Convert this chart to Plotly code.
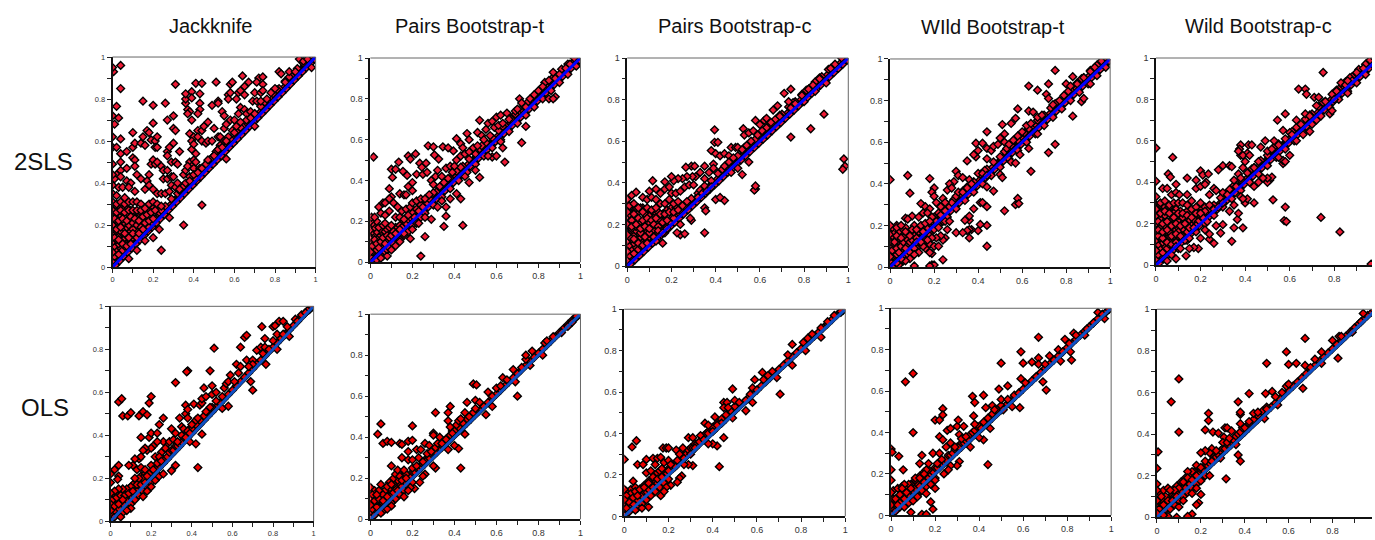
import plotly.graph_objects as go

W, H = 1375, 540
TITLES = ["Jackknife", "Pairs Bootstrap-t", "Pairs Bootstrap-c", "WIld Bootstrap-t", "Wild Bootstrap-c"]
ROWS = ["2SLS", "OLS"]
TICK_VALUES = [0, .1, .2, .3, .4, .5, .6, .7, .8, .9, 1]
TICK_LABELS = ["0", "", "0.2", "", "0.4", "", "0.6", "", "0.8", "", "1"]

BAND_2SLS = [(.005,.012),(.015,.01),(.025,.035),(.035,.03),(.045,.055),(.055,.05),(.065,.078),(.075,.07),(.085,.095),(.095,.09),(.105,.118),(.115,.11),(.125,.135),(.135,.13),(.145,.157),(.155,.15),(.165,.175),(.175,.17),(.185,.198),(.195,.19),(.205,.215),(.215,.21),(.225,.238),(.235,.23),(.245,.255),(.255,.25),(.265,.278),(.275,.27),(.285,.295),(.295,.29),(.305,.318),(.315,.31),(.325,.335),(.335,.33),(.345,.358),(.355,.35),(.365,.375),(.375,.37),(.385,.398),(.395,.39),(.405,.415),(.415,.41),(.425,.438),(.435,.43),(.445,.455),(.455,.45),(.465,.478),(.475,.47),(.485,.495),(.495,.49),(.505,.518),(.515,.51),(.525,.535),(.535,.53),(.545,.558),(.555,.55),(.565,.575),(.575,.57),(.585,.598),(.595,.59),(.605,.615),(.615,.61),(.625,.638),(.635,.63),(.645,.655),(.655,.65),(.665,.678),(.675,.67),(.685,.695),(.695,.69),(.705,.718),(.715,.71),(.725,.735),(.735,.73),(.745,.758),(.755,.75),(.765,.775),(.775,.77),(.785,.798),(.795,.79),(.805,.815),(.815,.81),(.825,.838),(.835,.83),(.845,.855),(.855,.85),(.865,.878),(.875,.87),(.885,.895),(.895,.89),(.905,.918),(.915,.91),(.925,.935),(.935,.93),(.945,.958),(.955,.95),(.965,.975),(.975,.97),(.985,.995),(.995,.99)]
BAND_ABOVE_2SLS = [(.2,.23),(.23,.26),(.26,.29),(.29,.325),(.32,.35),(.35,.385),(.38,.41),(.41,.445),(.44,.47),(.47,.505),(.5,.53),(.52,.555),(.55,.585),(.58,.61),(.61,.645),(.64,.67),(.67,.705),(.7,.73),(.73,.765),(.76,.79),(.79,.825),(.82,.85),(.85,.885),(.88,.91),(.91,.945),(.94,.97),(.97,1.0),(.33,.365),(.43,.465),(.53,.57),(.63,.665),(.69,.725),(.75,.785),(.81,.845),(.87,.905)]
BAND_BELOW_2SLS = [(.3,.28),(.34,.32),(.38,.36),(.42,.4),(.46,.44),(.5,.48),(.54,.52),(.58,.56),(.62,.6),(.66,.64),(.7,.68),(.74,.72),(.78,.76),(.82,.8),(.86,.84),(.9,.88),(.94,.92),(.98,.96),(.1,.08),(.14,.12),(.18,.16),(.22,.2),(.26,.24)]
CLUSTER_2SLS = [(.0,.03),(.01,.05),(.02,.08),(.0,.07),(.03,.06),(.04,.09),(.01,.1),(.03,.11),(.05,.08),(.06,.1),(.0,.12),(.02,.13),(.04,.12),(.07,.12),(.05,.13),(.08,.11),(.01,.15),(.03,.15),(.06,.14),(.09,.13),(.0,.16),(.05,.16),(.07,.15),(.1,.14),(.02,.17),(.08,.16),(.04,.17),(.11,.15),(.09,.17),(.06,.18),(.01,.19),(.03,.2),(.12,.17),(.07,.19),(.1,.18),(.0,.2)]
CLUSTER_WIDE = [(.0,.24),(.02,.22),(.04,.24),(.06,.21),(.08,.2),(.1,.21),(.12,.2),(.14,.21),(.16,.19),(.01,.26),(.03,.28),(.05,.26),(.07,.28),(.09,.27),(.11,.26),(.13,.25),(.15,.22),(.17,.22),(.19,.21),(.21,.23),(.02,.18),(.04,.19),(.06,.16),(.08,.14),(.1,.16),(.12,.14),(.14,.16),(.16,.17),(.18,.19),(.0,.29),(.02,.29),(.04,.28),(.06,.28),(.08,.25),(.1,.24),(.12,.23),(.14,.26),(.16,.25),(.18,.27),(.2,.28),(.22,.28),(.24,.27),(.01,.14),(.03,.13),(.05,.11),(.07,.1),(.09,.11)]
CLUSTER_NEAR = [(.0,.05),(.01,.08),(.02,.11),(.03,.09),(.04,.07),(.05,.1),(.06,.12),(.07,.09),(.08,.13),(.09,.12),(.1,.13),(.11,.15),(.12,.14),(.13,.17),(.14,.18),(.15,.17),(.16,.2),(.17,.19),(.18,.21),(.19,.22),(.2,.24),(.21,.22),(.22,.26),(.23,.25),(.24,.28),(.25,.27),(.26,.3),(.27,.29),(.28,.31),(.3,.34),(.06,.03),(.07,.05),(.08,.06),(.1,.07),(.12,.1),(.13,.1),(.14,.11),(.16,.13),(.18,.15),(.2,.18),(.22,.19),(.24,.22),(.03,.01),(.05,.03),(.09,.07),(.11,.09)]

JACK_2SLS = [(.005,.93),(.0,.95),(.04,.96),(.04,.85),(.02,.765),(.0,.72),(.03,.71),(.01,.68),(.0,.62),(.04,.61),(.0,.57),(.02,.57),(.04,.54),(.0,.49),(.04,.5),(.07,.55),(.1,.57),(.1,.64),(.11,.59),(.1,.52),(.11,.51),(.11,.48),(.07,.47),(.04,.46),(.02,.44),(.04,.43),(.01,.42),(.03,.38),(.07,.41),(.09,.4),(.05,.38),(.08,.38),(.11,.36),(.12,.44),(.14,.59),(.16,.58),(.15,.62),(.17,.65),(.18,.64),(.19,.605),(.21,.6),(.22,.62),(.21,.57),(.22,.57),(.15,.79),(.2,.77),(.26,.78),(.27,.7),(.2,.685),(.3,.72),(.31,.87),(.3,.66),(.31,.65),(.37,.75),(.38,.74),(.37,.73),(.36,.78),(.36,.8),(.36,.825),(.39,.835),(.39,.805),(.41,.875),(.44,.875),(.43,.825),(.43,.78),(.43,.75),(.42,.73),(.39,.7),(.38,.635),(.4,.62),(.42,.65),(.44,.65),(.42,.62),(.45,.67),(.47,.69),(.49,.77),(.51,.88),(.52,.79),(.52,.78),(.54,.74),(.55,.72),(.57,.82),(.57,.8),(.58,.83),(.58,.87),(.59,.88),(.61,.8),(.62,.83),(.63,.84),(.64,.91),(.65,.82),(.65,.86),(.67,.88),(.7,.83),(.72,.9),(.71,.88),(.74,.905),(.74,.87),(.73,.83),(.74,.84),(.27,.55),(.3,.59),(.28,.57),(.27,.53),(.29,.5),(.31,.5),(.32,.49),(.33,.55),(.38,.5),(.39,.48),(.4,.51),(.41,.5),(.39,.56),(.39,.6),(.4,.585),(.41,.54),(.44,.6),(.46,.59),(.47,.6),(.49,.6),(.5,.66),(.52,.62),(.53,.62),(.55,.66),(.56,.68),(.58,.7),(.6,.7),(.62,.73),(.63,.76),(.65,.75),(.66,.73),(.68,.74),(.69,.79),(.71,.79),(.73,.79),(.19,.49),(.2,.51),(.21,.49),(.22,.5),(.24,.48),(.25,.46),(.27,.46),(.18,.44),(.14,.42),(.17,.41),(.16,.37),(.18,.39),(.2,.37),(.22,.35),(.24,.35),(.26,.35),(.28,.36),(.25,.42),(.27,.42),(.29,.43),(.3,.43),(.29,.39),(.31,.38),(.32,.4),(.33,.37),(.35,.44),(.36,.46),(.37,.48),(.38,.43),(.4,.47),(.41,.42),(.43,.47),(.46,.49),(.49,.52),(.51,.55),(.53,.58),(.55,.6),(.57,.62),(.59,.65),(.61,.67),(.63,.69),(.66,.7),(.68,.71),(.7,.73),(.76,.8),(.78,.83),(.8,.85),(.82,.93),(.83,.92),(.85,.88),(.87,.93),(.9,.93),(.92,.99),(.94,.98),(.96,.99),(.36,.4),(.38,.41),(.4,.44),(.42,.45),(.44,.47),(.47,.51),(.5,.53),(.52,.56),(.54,.57),(.56,.6),(.6,.64),(.24,.08),(.35,.2),(.44,.295),(.28,.235),(.23,.18),(.2,.14),(.16,.125),(.12,.08),(.56,.515),(.7,.67),(.98,.95),(.08,.04),(.0,.31),(.02,.3),(.04,.31),(.06,.3),(.08,.31),(.1,.31),(.12,.31),(.14,.3),(.0,.27),(.02,.26),(.04,.27),(.06,.26),(.08,.27),(.1,.27),(.12,.27),(.14,.27),(.16,.28),(.18,.3),(.2,.31),(.22,.3),(.24,.29),(.01,.23),(.03,.22),(.05,.23),(.07,.22),(.09,.24),(.11,.23),(.13,.22),(.15,.24),(.17,.25),(.19,.26),(.21,.27),(.14,.19),(.16,.21),(.18,.22),(.2,.23),(.13,.16),(.15,.18),(.0,.35),(.0,.39),(.0,.44),(.02,.34),(.06,.33)]

PAIRS_T_2SLS = [(.015,.515),(.1,.455),(.12,.455),(.105,.415),(.135,.49),(.155,.445),(.175,.425),(.18,.52),(.19,.505),(.215,.53),(.235,.485),(.245,.465),(.265,.485),(.275,.57),(.3,.565),(.305,.525),(.325,.505),(.345,.565),(.37,.56),(.395,.545),(.41,.605),(.43,.58),(.44,.56),(.46,.63),(.47,.6),(.51,.635),(.52,.695),(.53,.62),(.55,.65),(.56,.68),(.58,.69),(.59,.66),(.6,.71),(.62,.72),(.65,.73),(.67,.7),(.69,.74),(.71,.8),(.72,.78),(.74,.76),(.78,.82),(.8,.84),(.83,.88),(.87,.93),(.9,.92),(.93,.95),(.95,.97),(.88,.9),(.85,.8),(.88,.81),(.87,.8),(.74,.665),(.72,.585),(.64,.49),(.63,.56),(.52,.415),(.47,.39),(.43,.31),(.36,.27),(.36,.225),(.35,.175),(.44,.18),(.26,.125),(.24,.03),(.19,.115),(.29,.21),(.32,.27),(.38,.31),(.41,.335),(.58,.515),(.6,.52),(.09,.36),(.1,.32),(.14,.335),(.16,.33),(.17,.33),(.18,.37),(.2,.39),(.2,.35),(.22,.43),(.25,.43),(.27,.44),(.29,.4),(.3,.38),(.31,.42),(.32,.45),(.34,.42),(.36,.46),(.38,.47),(.4,.47),(.33,.37),(.35,.39),(.37,.41),(.39,.44),(.41,.5),(.43,.52),(.45,.53),(.47,.54),(.49,.56),(.51,.57),(.06,.29),(.07,.29),(.09,.31),(.11,.29),(.13,.27),(.15,.25),(.17,.26),(.19,.27),(.2,.29),(.22,.3),(.24,.31),(.26,.31),(.28,.33),(.04,.27),(.05,.24),(.07,.23),(.09,.25),(.12,.22),(.14,.22),(.16,.21),(.18,.23),(.005,.22),(.02,.22),(.54,.6),(.57,.62),(.61,.67),(.63,.68),(.66,.7),(.7,.75),(.76,.8),(.82,.86),(.85,.89),(.14,.1),(.12,.08),(.1,.06),(.08,.03),(.05,.02),(.2,.16),(.23,.19),(.26,.22),(.34,.3),(.45,.42),(.5,.45),(.56,.52),(.62,.59),(.14,.16),(.16,.14)]

PAIRS_C_2SLS = [(.98,.515),(.985,.48),(.975,.465),(.83,.66),(.74,.62),(.89,.73),(.74,.85),(.71,.83),(.66,.75),(.68,.77),(.73,.79),(.74,.76),(.58,.37),(.575,.365),(.58,.385),(.52,.44),(.44,.315),(.4,.32),(.42,.33),(.35,.28),(.355,.265),(.35,.16),(.29,.22),(.285,.23),(.24,.15),(.26,.155),(.225,.16),(.24,.2),(.17,.16),(.16,.11),(.395,.655),(.395,.595),(.41,.595),(.38,.555),(.4,.54),(.42,.53),(.44,.54),(.46,.53),(.47,.57),(.49,.57),(.5,.57),(.52,.56),(.525,.66),(.53,.63),(.55,.64),(.57,.65),(.58,.7),(.6,.68),(.62,.7),(.63,.71),(.29,.48),(.305,.48),(.265,.475),(.35,.48),(.39,.49),(.37,.45),(.39,.47),(.33,.45),(.35,.42),(.31,.43),(.295,.43),(.27,.43),(.25,.42),(.23,.42),(.21,.41),(.2,.43),(.17,.405),(.115,.41),(.13,.37),(.1,.36),(.02,.34),(.04,.355),(.07,.33),(.09,.32),(.11,.33),(.13,.32),(.15,.35),(.17,.37),(.19,.38),(.2,.35),(.22,.35),(.24,.36),(.26,.38),(.28,.39),(.3,.39),(.32,.33),(.34,.35),(.36,.36),(.38,.38),(.0,.32),(.01,.29),(.03,.3),(.05,.28),(.07,.26),(.09,.28),(.11,.27),(.13,.28),(.15,.3),(.17,.3),(.19,.32),(.21,.3),(.23,.31),(.25,.29),(.27,.31),(.01,.25),(.03,.25),(.05,.23),(.07,.22),(.09,.23),(.11,.22),(.13,.23),(.15,.25),(.17,.25),(.19,.26),(.21,.26),(.23,.27),(.0,.2),(.02,.19),(.04,.2),(.06,.18),(.08,.19),(.1,.18),(.12,.2),(.14,.19),(.16,.21),(.18,.22),(.44,.48),(.46,.5),(.48,.52),(.54,.58),(.56,.6),(.59,.63),(.61,.65),(.65,.69),(.69,.72),(.76,.78),(.79,.82),(.82,.85),(.84,.87),(.87,.9),(.92,.95),(.8,.79),(.85,.84),(.9,.88),(.55,.5),(.5,.47),(.47,.45),(.0,.26),(.0,.15),(.13,.12),(.14,.17),(.16,.16),(.18,.18)]

WILD_T_2SLS = [(.0,.42),(.08,.44),(.09,.355),(.18,.425),(.2,.38),(.19,.36),(.2,.34),(.14,.305),(.16,.29),(.18,.28),(.07,.235),(.1,.245),(.03,.19),(.75,.945),(.63,.87),(.67,.85),(.72,.88),(.71,.83),(.72,.81),(.83,.915),(.8,.88),(.82,.87),(.58,.76),(.63,.75),(.65,.745),(.57,.715),(.51,.685),(.55,.69),(.52,.64),(.44,.65),(.39,.595),(.42,.595),(.44,.57),(.4,.56),(.39,.53),(.38,.54),(.35,.51),(.44,.52),(.46,.56),(.47,.58),(.49,.59),(.5,.62),(.52,.6),(.3,.46),(.31,.44),(.33,.43),(.36,.42),(.38,.39),(.4,.45),(.42,.45),(.44,.44),(.29,.41),(.27,.4),(.26,.37),(.28,.38),(.24,.33),(.22,.3),(.21,.31),(.23,.29),(.25,.31),(.31,.36),(.33,.36),(.35,.38),(.37,.4),(.05,.2),(.08,.23),(.11,.2),(.13,.24),(.15,.26),(.17,.26),(.19,.24),(.1,.18),(.12,.18),(.14,.2),(.16,.21),(.18,.22),(.07,.17),(.09,.15),(.03,.15),(.05,.14),(.02,.12),(.75,.59),(.72,.55),(.64,.46),(.63,.57),(.83,.725),(.87,.795),(.88,.81),(.58,.33),(.57,.3),(.585,.305),(.52,.27),(.5,.445),(.51,.43),(.47,.365),(.44,.385),(.44,.29),(.41,.31),(.42,.31),(.38,.28),(.44,.1),(.44,.2),(.41,.205),(.4,.175),(.37,.18),(.36,.18),(.35,.175),(.36,.14),(.3,.165),(.33,.165),(.36,.225),(.34,.225),(.36,.245),(.25,.22),(.26,.18),(.25,.14),(.24,.13),(.24,.035),(.19,.01),(.2,.01),(.18,.005),(.11,.005),(.19,.065),(.18,.07),(.16,.09),(.18,.11),(.2,.1),(.22,.1),(.23,.15),(.21,.14),(.19,.14),(.17,.13),(.15,.1),(.13,.07),(.11,.06),(.09,.04),(.07,.03),(.04,.01),(.12,.12),(.14,.12),(.55,.505),(.59,.54),(.57,.5),(.27,.22),(.54,.59),(.56,.61),(.58,.63),(.6,.65),(.62,.68),(.64,.69),(.67,.72),(.69,.73),(.74,.78),(.77,.8),(.85,.88),(.88,.91),(.91,.94),(.93,.96),(.96,.99),(.91,.88),(.67,.64),(.05,.04),(.03,.02),(.01,.0)]

WILD_C_2SLS = [(.0,.565),(.075,.52),(.055,.44),(.065,.425),(.0,.405),(.09,.39),(.14,.42),(.18,.41),(.2,.455),(.21,.435),(.235,.44),(.225,.4),(.28,.46),(.3,.48),(.33,.48),(.34,.475),(.39,.47),(.38,.58),(.375,.56),(.38,.53),(.37,.55),(.41,.54),(.415,.58),(.43,.58),(.39,.53),(.4,.5),(.42,.53),(.47,.57),(.49,.6),(.5,.55),(.53,.6),(.545,.7),(.58,.73),(.57,.65),(.6,.64),(.63,.7),(.64,.85),(.67,.85),(.675,.825),(.67,.73),(.71,.81),(.73,.81),(.75,.93),(.72,.77),(.8,.8),(.83,.88),(.85,.87),(.88,.89),(.93,.95),(.96,.99),(.98,1.0),(.825,.16),(.74,.23),(.58,.28),(.575,.215),(.585,.21),(.525,.315),(.51,.41),(.52,.425),(.5,.4),(.5,.42),(.57,.49),(.57,.505),(.58,.5),(.6,.53),(.69,.645),(.78,.73),(.79,.745),(.965,.005),(.44,.3),(.39,.18),(.4,.3),(.41,.32),(.34,.115),(.35,.18),(.365,.22),(.37,.25),(.29,.155),(.3,.195),(.27,.19),(.26,.105),(.24,.125),(.19,.08),(.17,.085),(.135,.045),(.22,.17),(.24,.15),(.2,.13),(.15,.08),(.33,.26),(.35,.29),(.38,.33),(.39,.32),(.44,.38),(.46,.4),(.48,.42),(.03,.37),(.05,.37),(.07,.34),(.09,.35),(.105,.34),(.14,.34),(.16,.31),(.18,.37),(.2,.38),(.22,.39),(.24,.34),(.26,.37),(.27,.36),(.3,.35),(.32,.34),(.36,.38),(.35,.41),(.37,.44),(.38,.42),(.0,.33),(.02,.3),(.04,.31),(.06,.29),(.08,.3),(.1,.3),(.12,.3),(.14,.29),(.16,.27),(.18,.28),(.2,.3),(.22,.26),(.24,.29),(.26,.27),(.28,.28),(.3,.3),(.0,.27),(.02,.25),(.04,.26),(.06,.25),(.08,.23),(.1,.25),(.12,.25),(.14,.24),(.16,.23),(.18,.25),(.2,.25),(.23,.21),(.01,.21),(.03,.2),(.05,.21),(.07,.19),(.09,.2),(.11,.19),(.13,.2),(.15,.18),(.17,.18),(.01,.17),(.03,.16),(.05,.17),(.07,.14),(.09,.15),(.11,.14),(.13,.12),(.15,.13),(.09,.09),(.11,.08),(.07,.05),(.09,.03),(.05,.02),(.44,.47),(.46,.5),(.52,.56),(.55,.58),(.61,.63),(.65,.68),(.69,.72),(.76,.79),(.81,.84),(.86,.89),(.9,.93),(.55,.52),(.63,.6),(.66,.63),(.72,.7),(.86,.83)]

BAND_OLS = [(.0,.01),(.01,.03),(.02,.02),(.03,.05),(.04,.04),(.05,.07),(.06,.06),(.07,.09),(.08,.08),(.09,.11),(.1,.1),(.12,.13),(.14,.15),(.16,.17),(.18,.19),(.2,.21),(.22,.23),(.24,.25),(.26,.27),(.28,.29),(.3,.31),(.32,.33),(.34,.35),(.36,.37),(.38,.39),(.4,.41),(.42,.43),(.44,.45),(.46,.47),(.48,.49),(.5,.51),(.52,.53),(.54,.55),(.56,.57),(.58,.59),(.6,.61),(.62,.63),(.64,.65),(.66,.67),(.68,.69),(.7,.71),(.72,.73),(.74,.75),(.76,.77),(.78,.79),(.8,.81),(.82,.83),(.84,.85),(.86,.87),(.88,.89),(.9,.91),(.92,.93),(.94,.95),(.96,.97),(.98,.985),(.99,.995)]
CLUSTER_OLS = [(.0,.06),(.01,.08),(.02,.05),(.03,.08),(.04,.06),(.05,.09),(.06,.08),(.07,.11),(.08,.1),(.09,.12),(.1,.12),(.11,.13),(.12,.15),(.13,.14),(.14,.17),(.15,.16),(.16,.19),(.17,.18),(.18,.2),(.19,.21),(.2,.23),(.21,.23),(.22,.25),(.23,.25),(.24,.26),(.25,.27),(.26,.29),(.27,.29),(.28,.3),(.29,.32),(.3,.33),(.31,.33),(.32,.35),(.33,.35),(.34,.36),(.35,.37),(.36,.39),(.37,.4),(.38,.41),(.39,.43),(.4,.43),(.42,.45),(.44,.47),(.46,.49),(.48,.51),(.5,.53),(.01,.12),(.03,.13),(.05,.14),(.07,.13),(.09,.15),(.11,.17),(.13,.19),(.15,.21),(.17,.22),(.06,.04),(.08,.06),(.1,.08),(.12,.1),(.14,.12),(.16,.14),(.18,.16),(.2,.18)]

JACK_OLS = [(.04,.555),(.055,.57),(.06,.49),(.085,.49),(.1,.505),(.14,.49),(.16,.51),(.18,.495),(.19,.55),(.2,.58),(.26,.48),(.32,.645),(.38,.7),(.375,.695),(.49,.7),(.51,.805),(.64,.81),(.66,.855),(.67,.865),(.745,.905),(.76,.85),(.8,.905),(.81,.91),(.83,.93),(.85,.93),(.87,.905),(.82,.87),(.85,.87),(.88,.86),(.8,.84),(.82,.8),(.765,.73),(.7,.61),(.69,.65),(.58,.535),(.55,.525),(.45,.405),(.43,.25),(.42,.36),(.39,.37),(.3,.235),(.32,.26),(.22,.19),(.24,.21),(.26,.22),(.2,.16),(.18,.14),(.16,.115),(.1,.06),(.08,.05),(.05,.02),(.19,.39),(.2,.41),(.23,.41),(.24,.45),(.15,.39),(.3,.43),(.32,.41),(.34,.48),(.37,.54),(.37,.5),(.38,.48),(.38,.52),(.41,.545),(.44,.54),(.45,.55),(.46,.62),(.45,.57),(.47,.58),(.5,.59),(.5,.63),(.52,.6),(.47,.51),(.49,.53),(.52,.56),(.55,.58),(.56,.62),(.57,.64),(.58,.65),(.59,.68),(.61,.65),(.62,.73),(.64,.72),(.63,.69),(.67,.75),(.7,.75),(.7,.73),(.68,.72),(.72,.795),(.74,.81),(.76,.81),(.75,.78),(.78,.8),(.91,.94),(.94,.96),(.97,.98),(.99,1.0),(.92,.93),(.96,.97),(.35,.44),(.36,.43),(.38,.42),(.4,.45),(.42,.47),(.43,.48),(.28,.36),(.26,.37),(.25,.32),(.27,.34),(.29,.37),(.31,.38),(.33,.37),(.35,.4),(.37,.39),(.39,.41),(.21,.35),(.23,.37),(.18,.33),(.2,.34),(.17,.34),(.16,.33),(.14,.29),(.15,.3),(.12,.29),(.11,.26),(.09,.26),(.13,.24),(.15,.25),(.17,.24),(.22,.3),(.24,.3),(.23,.27),(.25,.28),(.2,.26),(.19,.22),(.21,.24),(.16,.2),(.14,.2),(.18,.21),(.12,.2),(.13,.17),(.15,.17),(.17,.18),(.1,.16),(.08,.15),(.06,.15),(.04,.15),(.02,.14),(.0,.13),(.04,.26),(.02,.24),(.0,.22),(.04,.21),(.035,.195),(.0,.18),(.01,.1),(.03,.11),(.05,.12),(.07,.12),(.09,.13),(.11,.14),(.0,.08),(.02,.07),(.04,.08),(.06,.1),(.0,.05)]

PAIRS_T_OLS = [(.05,.465),(.035,.415),(.06,.37),(.08,.38),(.1,.375),(.14,.37),(.15,.365),(.18,.38),(.2,.385),(.2,.455),(.18,.33),(.1,.26),(.15,.3),(.18,.29),(.2,.29),(.22,.34),(.24,.34),(.26,.37),(.28,.36),(.31,.52),(.3,.42),(.3,.41),(.33,.4),(.35,.38),(.37,.52),(.38,.55),(.37,.48),(.38,.45),(.41,.46),(.42,.48),(.43,.49),(.46,.57),(.45,.52),(.47,.5),(.49,.52),(.5,.54),(.49,.66),(.505,.655),(.5,.58),(.52,.57),(.55,.51),(.58,.55),(.56,.62),(.58,.6),(.6,.64),(.62,.65),(.63,.69),(.65,.68),(.68,.73),(.69,.67),(.7,.6),(.72,.74),(.74,.78),(.74,.8),(.77,.82),(.76,.75),(.82,.8),(.83,.86),(.84,.87),(.87,.89),(.91,.91),(.94,.94),(.96,.96),(.98,.99),(.45,.415),(.43,.25),(.42,.345),(.4,.36),(.37,.34),(.31,.25),(.3,.26),(.26,.22),(.25,.21),(.235,.18),(.21,.15),(.19,.155),(.16,.11),(.18,.14),(.1,.065),(.08,.05),(.05,.03),(.09,.18),(.11,.2),(.12,.22),(.13,.24),(.14,.21),(.16,.24),(.15,.19),(.17,.2),(.2,.25),(.22,.26),(.23,.3),(.25,.28),(.27,.32),(.29,.33),(.31,.35),(.32,.37),(.34,.37),(.36,.39),(.39,.42),(.05,.17),(.07,.14),(.08,.16),(.1,.17),(.0,.155),(.02,.14),(.04,.14),(.06,.12),(.08,.11),(.0,.1),(.02,.09),(.04,.1),(.06,.09),(.01,.05),(.03,.06),(.0,.07),(.01,.12),(.03,.12)]

PAIRS_C_OLS = [(.0,.275),(.035,.335),(.055,.365),(.06,.25),(.085,.25),(.1,.275),(.04,.17),(.1,.21),(.13,.28),(.15,.28),(.165,.285),(.175,.33),(.19,.33),(.2,.33),(.18,.26),(.2,.27),(.235,.32),(.265,.33),(.25,.3),(.29,.38),(.31,.38),(.345,.39),(.365,.45),(.38,.44),(.41,.48),(.44,.45),(.45,.55),(.465,.55),(.45,.525),(.47,.525),(.49,.615),(.5,.56),(.52,.55),(.49,.475),(.55,.51),(.58,.55),(.55,.56),(.57,.59),(.59,.66),(.58,.62),(.6,.61),(.625,.695),(.63,.66),(.65,.68),(.67,.7),(.69,.67),(.705,.59),(.76,.83),(.74,.78),(.76,.73),(.82,.8),(.81,.84),(.83,.86),(.85,.88),(.89,.865),(.89,.91),(.92,.94),(.95,.97),(.98,.99),(.43,.24),(.45,.38),(.42,.34),(.4,.35),(.38,.35),(.31,.245),(.29,.25),(.27,.25),(.26,.195),(.25,.185),(.24,.165),(.21,.15),(.19,.14),(.165,.1),(.18,.12),(.11,.045),(.08,.04),(.05,.03),(.12,.22),(.14,.25),(.16,.22),(.17,.23),(.15,.18),(.17,.19),(.2,.22),(.23,.24),(.21,.25),(.24,.27),(.27,.28),(.3,.3),(.32,.33),(.34,.36),(.36,.37),(.38,.4),(.4,.41),(.42,.44),(.03,.11),(.0,.13),(.01,.1),(.05,.12),(.07,.13),(.09,.14),(.11,.16),(.02,.07),(.04,.09),(.06,.1),(.01,.04),(.0,.08)]

WILD_T_OLS = [(.0,.32),(.005,.305),(.035,.285),(.055,.22),(.0,.22),(.0,.17),(.065,.645),(.1,.685),(.1,.4),(.2,.46),(.22,.46),(.235,.515),(.235,.485),(.22,.38),(.235,.365),(.255,.41),(.27,.42),(.3,.43),(.305,.46),(.33,.43),(.31,.39),(.37,.575),(.38,.545),(.375,.48),(.38,.44),(.41,.42),(.42,.58),(.43,.52),(.46,.53),(.47,.51),(.5,.735),(.49,.61),(.5,.56),(.53,.625),(.53,.56),(.56,.58),(.58,.59),(.59,.79),(.6,.735),(.59,.66),(.61,.64),(.64,.74),(.66,.67),(.67,.86),(.67,.76),(.67,.73),(.7,.73),(.72,.77),(.76,.8),(.78,.79),(.79,.85),(.81,.83),(.83,.88),(.84,.87),(.88,.87),(.94,.98),(.97,.95),(.96,.97),(.92,.93),(.89,.9),(.82,.75),(.815,.79),(.77,.745),(.69,.645),(.705,.605),(.585,.52),(.55,.525),(.51,.51),(.44,.245),(.42,.365),(.4,.375),(.45,.42),(.36,.33),(.31,.26),(.3,.24),(.27,.24),(.26,.22),(.24,.2),(.2,.13),(.2,.17),(.18,.15),(.19,.03),(.18,.065),(.16,.105),(.14,.005),(.16,.005),(.09,.015),(.1,.07),(.12,.09),(.14,.29),(.13,.25),(.17,.25),(.16,.22),(.15,.2),(.19,.3),(.22,.3),(.21,.25),(.23,.27),(.25,.33),(.27,.35),(.29,.33),(.32,.37),(.34,.38),(.11,.18),(.08,.15),(.06,.15),(.05,.13),(.04,.1),(.02,.08),(.0,.11),(.0,.05),(.03,.05),(.07,.11),(.09,.13),(.13,.18),(.15,.16)]

WILD_C_OLS = [(.005,.315),(.0,.235),(.0,.16),(.0,.13),(.065,.555),(.1,.665),(.1,.41),(.22,.42),(.235,.5),(.235,.465),(.255,.41),(.28,.405),(.31,.43),(.32,.43),(.305,.385),(.34,.415),(.37,.555),(.38,.495),(.38,.505),(.38,.45),(.42,.595),(.42,.46),(.44,.5),(.46,.505),(.5,.74),(.495,.595),(.525,.605),(.5,.52),(.49,.475),(.54,.58),(.55,.54),(.57,.6),(.59,.795),(.6,.735),(.59,.63),(.6,.64),(.635,.74),(.665,.62),(.675,.86),(.675,.73),(.7,.72),(.72,.76),(.75,.795),(.75,.74),(.8,.85),(.83,.87),(.84,.87),(.825,.765),(.89,.89),(.94,.98),(.93,.94),(.36,.35),(.37,.3),(.38,.27),(.315,.185),(.29,.285),(.3,.36),(.32,.36),(.33,.38),(.25,.33),(.24,.31),(.27,.32),(.22,.32),(.2,.31),(.22,.27),(.25,.27),(.18,.25),(.2,.24),(.16,.22),(.14,.22),(.12,.17),(.14,.19),(.16,.18),(.18,.2),(.22,.2),(.24,.2),(.2,.175),(.18,.14),(.16,.115),(.2,.11),(.19,.07),(.18,.06),(.16,.015),(.14,.005),(.09,.0),(.05,.005),(.03,.01),(.1,.05),(.12,.08),(.1,.14),(.08,.13),(.06,.13),(.04,.1),(.02,.1),(.0,.08),(.03,.06),(.05,.08),(.07,.08),(.09,.1),(.01,.04),(.0,.02)]

SERIES = [
    [BAND_2SLS + BAND_ABOVE_2SLS + CLUSTER_2SLS + CLUSTER_WIDE + JACK_2SLS,
     BAND_2SLS + BAND_ABOVE_2SLS + BAND_BELOW_2SLS + CLUSTER_2SLS + CLUSTER_NEAR + PAIRS_T_2SLS,
     BAND_2SLS + BAND_ABOVE_2SLS + CLUSTER_2SLS + CLUSTER_WIDE + PAIRS_C_2SLS,
     BAND_2SLS + BAND_ABOVE_2SLS + BAND_BELOW_2SLS + CLUSTER_2SLS + CLUSTER_NEAR + WILD_T_2SLS,
     BAND_2SLS + BAND_ABOVE_2SLS + BAND_BELOW_2SLS + CLUSTER_2SLS + CLUSTER_WIDE + WILD_C_2SLS],
    [BAND_OLS + CLUSTER_OLS + JACK_OLS, BAND_OLS + CLUSTER_OLS + PAIRS_T_OLS,
     BAND_OLS + CLUSTER_OLS + PAIRS_C_OLS, BAND_OLS + CLUSTER_OLS + WILD_T_OLS,
     BAND_OLS + CLUSTER_OLS + WILD_C_OLS],
]

# pixel boxes: left, right, top, bottom, x-axis upper limit
BOXES = [
    [(110, 314, 53, 267, 1), (369, 580, 54, 262, 1), (627, 849, 54, 266, 1), (891, 1112, 55, 267, 1), (1158, 1375, 54, 265, .969)],
    [(108, 312, 307, 526, 1), (369, 580, 315, 524, 1), (624, 846, 310, 521, 1), (892, 1113, 309, 520, 1), (1159, 1375, 310, 522, .98)],
]
TITLE_POS = [(208, 21), (469, 21), (735, 21), (994, 22), (1261, 21)]
ROW_POS = [(41, 159), (42, 410)]
FILL = ["#ee1a35", "#ee0000"]
LINE = ["#0000ff", "#0f50c4"]
TICK_SIZES = [[7.5, 9, 9, 9, 9], [7.5, 9, 9, 9, 9]]

fig = go.Figure()
layout = dict(width=W, height=H, autosize=False, showlegend=False, paper_bgcolor="white",
              plot_bgcolor="white", margin=dict(l=0, r=0, t=0, b=0),
              font=dict(family="Liberation Sans", color="#222222"))
shapes, annotations = [], []
n = 0
for r, row in enumerate(SERIES):
    for c, pts in enumerate(row):
        n += 1
        sfx = "" if n == 1 else str(n)
        L, R, T, B, xmax = BOXES[r][c]
        axis = dict(range=[0, 1], tickmode="array", tickvals=TICK_VALUES, ticktext=TICK_LABELS,
                    ticks="outside", ticklen=4, tickwidth=1, tickcolor="#222222", showgrid=False,
                    zeroline=False, showline=True, linecolor="#111111", linewidth=1.5,
                    tickfont=dict(size=TICK_SIZES[r][c], color="#333333"))
        layout["xaxis" + sfx] = dict(axis, range=[0, xmax], domain=[L / W, R / W], anchor="y" + sfx)
        layout["yaxis" + sfx] = dict(axis, domain=[1 - B / H, 1 - T / H], anchor="x" + sfx)
        fig.add_trace(go.Scatter(x=[p[0] for p in pts], y=[p[1] for p in pts], mode="markers",
                                 xaxis="x" + sfx, yaxis="y" + sfx,
                                 marker=dict(symbol="diamond", size=6, color=FILL[r],
                                             line=dict(color="black", width=1.4))))
        fig.add_trace(go.Scatter(x=[0, 1], y=[0, 1], mode="lines", xaxis="x" + sfx, yaxis="y" + sfx,
                                 line=dict(color=LINE[r], width=3)))
        shapes.append(dict(type="line", xref="x%s domain" % sfx, yref="y%s domain" % sfx,
                           x0=0, x1=1, y0=1, y1=1, line=dict(color="#666666", width=1)))
        if xmax == 1:
            shapes.append(dict(type="line", xref="x%s domain" % sfx, yref="y%s domain" % sfx,
                               x0=1, x1=1, y0=0, y1=1, line=dict(color="#666666", width=1)))

for text, (px, py) in zip(TITLES, TITLE_POS):
    annotations.append(dict(text=text, x=px / W, y=1 - py / H, xref="paper", yref="paper",
                            xanchor="center", yanchor="middle", showarrow=False,
                            font=dict(size=20, color="#111111")))
for text, (px, py) in zip(ROWS, ROW_POS):
    annotations.append(dict(text=text, x=px / W, y=1 - py / H, xref="paper", yref="paper",
                            xanchor="center", yanchor="middle", showarrow=False,
                            font=dict(size=24, color="#111111")))
layout["shapes"] = shapes
layout["annotations"] = annotations
fig.update_layout(**layout)
fig.write_html("out.html", config={"displayModeBar": False},
               post_script="document.body.style.margin='0';document.body.style.overflow='hidden';")
